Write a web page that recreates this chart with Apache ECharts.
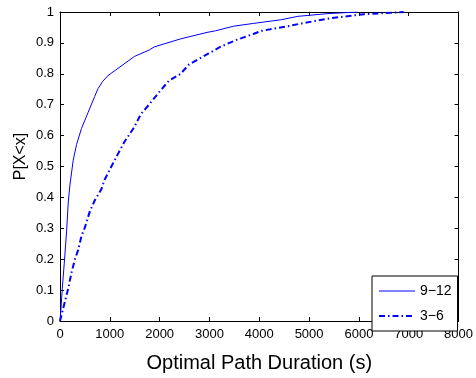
<!DOCTYPE html>
<html>
<head>
<meta charset="utf-8">
<script src="https://cdn.jsdelivr.net/npm/echarts@6/dist/echarts.min.js"></script>
<style>
  html, body { margin: 0; padding: 0; background: #fff; }
  #chart { width: 476px; height: 378px; }
</style>
</head>
<body>
<div id="chart"></div>
<script>
// Empirical CDF of optimal path duration, two time-of-day groups
const seriesNames = ['9\u221212', '3\u22126'];

// 9-12: duration (s) and cumulative probability
const durA = [0, 20, 46, 86, 133, 166, 199, 265, 332, 431, 564, 697, 763, 860, 962, 1227, 1493, 1791, 1891, 2421, 2952, 3118, 3483, 3881, 4440, 4776, 5400, 5970];
const probA = [0, 0.04, 0.106, 0.188, 0.292, 0.385, 0.44, 0.52, 0.571, 0.623, 0.675, 0.727, 0.752, 0.776, 0.794, 0.825, 0.856, 0.877, 0.887, 0.913, 0.934, 0.939, 0.954, 0.963, 0.975, 0.986, 0.995, 1.0];

// 3-6: duration (s) and cumulative probability
const durB = [0, 100, 166, 232, 299, 365, 431, 498, 597, 697, 829, 896, 1028, 1161, 1294, 1493, 1625, 1791, 2023, 2189, 2421, 2587, 2819, 2985, 3217, 3516, 3881, 4046, 4577, 4909, 5439, 6103, 6826, 6900];
const probB = [0, 0.064, 0.106, 0.157, 0.199, 0.23, 0.275, 0.302, 0.354, 0.39, 0.426, 0.457, 0.499, 0.54, 0.58, 0.628, 0.67, 0.701, 0.747, 0.778, 0.80, 0.83, 0.851, 0.866, 0.887, 0.908, 0.929, 0.939, 0.954, 0.965, 0.98, 0.993, 0.999, 1.0];

// Axis ticks
const xTicks = [0, 1000, 2000, 3000, 4000, 5000, 6000, 7000, 8000];
const yTicks = [0, 0.1, 0.2, 0.3, 0.4, 0.5, 0.6, 0.7, 0.8, 0.9, 1];

const FONT = '"Liberation Sans", Arial, Helvetica, sans-serif';
const zip = (xs, ys) => xs.map((x, i) => [x, ys[i]]);

const tickInside = { show: true, inside: true, length: 4, lineStyle: { color: '#000', width: 1 } };
const axisLineBlack = { show: true, onZero: false, lineStyle: { color: '#000', width: 1 } };

const styleA = { color: '#0000ff', width: 1, type: 'solid' };
const styleB = { color: '#0000ff', width: 2, type: [6, 3, 1.5, 3] };

const chart = echarts.init(document.getElementById('chart'), null, { renderer: 'canvas' });
chart.setOption({
  animation: false,
  backgroundColor: '#fff',
  grid: { left: 60, right: 14, top: 12, bottom: 44, containLabel: false },
  xAxis: [
    {
      type: 'value',
      min: xTicks[0], max: xTicks[xTicks.length - 1], interval: xTicks[1] - xTicks[0],
      axisLine: axisLineBlack,
      axisTick: tickInside,
      splitLine: { show: false },
      axisLabel: { color: '#000', fontFamily: FONT, fontSize: 13, margin: 7, formatter: v => String(v) },
      name: 'Optimal Path Duration (s)',
      nameLocation: 'middle',
      nameGap: 32,
      nameTextStyle: { color: '#000', fontFamily: FONT, fontSize: 20 }
    },
    {
      type: 'value', position: 'top',
      min: xTicks[0], max: xTicks[xTicks.length - 1], interval: xTicks[1] - xTicks[0],
      axisLine: axisLineBlack, axisTick: tickInside,
      axisLabel: { show: false }, splitLine: { show: false }
    }
  ],
  yAxis: [
    {
      type: 'value',
      min: yTicks[0], max: yTicks[yTicks.length - 1], interval: 0.1,
      axisLine: axisLineBlack,
      axisTick: tickInside,
      splitLine: { show: false },
      axisLabel: { color: '#000', fontFamily: FONT, fontSize: 13, margin: 6, formatter: v => String(Math.round(v * 10) / 10) },
      name: 'P[X<x]',
      nameLocation: 'middle',
      nameMoveOverlap: false,
      nameGap: 31,
      nameTextStyle: { color: '#000', fontFamily: FONT, fontSize: 16, padding: [0, 0, 0, 20] }
    },
    {
      type: 'value', position: 'right',
      min: yTicks[0], max: yTicks[yTicks.length - 1], interval: 0.1,
      axisLine: axisLineBlack, axisTick: tickInside,
      axisLabel: { show: false }, splitLine: { show: false }
    }
  ],
  legend: {
    orient: 'vertical',
    left: 372, top: 276,
    width: 85,
    padding: [8, 6, 8, 6],
    itemGap: 11,
    itemWidth: 36, itemHeight: 14,
    itemStyle: { opacity: 0 },
    backgroundColor: '#fff',
    borderColor: '#000', borderWidth: 1, borderRadius: 0,
    textStyle: { color: '#000', fontFamily: FONT, fontSize: 14 },
    data: [
      { name: seriesNames[0], lineStyle: styleA },
      { name: seriesNames[1], lineStyle: styleB }
    ]
  },
  series: [
    {
      name: seriesNames[0], type: 'line',
      data: zip(durA, probA),
      showSymbol: false, symbol: 'none', smooth: false,
      lineStyle: styleA,
      itemStyle: { color: '#0000ff' }
    },
    {
      name: seriesNames[1], type: 'line',
      data: zip(durB, probB),
      showSymbol: false, symbol: 'none', smooth: false,
      lineStyle: styleB,
      itemStyle: { color: '#0000ff' }
    }
  ]
});
</script>
</body>
</html>
